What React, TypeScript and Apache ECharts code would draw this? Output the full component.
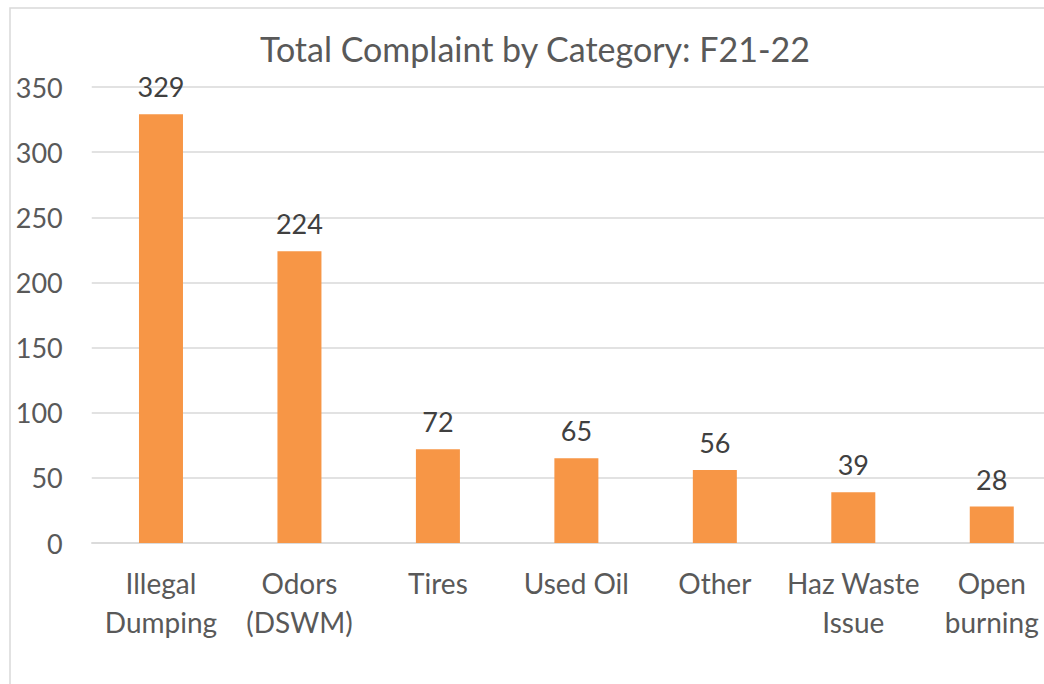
import React, { useEffect, useRef } from "react";
import * as echarts from "echarts";

const categories = ["Illegal\nDumping", "Odors\n(DSWM)", "Tires", "Used Oil", "Other", "Haz Waste\nIssue", "Open\nburning"];
const complaints = [329, 224, 72, 65, 56, 39, 28];
const yTicks = { min: 0, max: 350, interval: 50 };
const title = "Total Complaint by Category: F21-22";

const FONT = "Lato, 'Open Sans', sans-serif";
const TEXT = "#595959";

export default function App() {
  const ref = useRef<HTMLDivElement>(null);
  useEffect(() => {
    if (!ref.current) return;
    const chart = echarts.init(ref.current, undefined, { renderer: "svg" });
    chart.setOption({
      animation: false,
      backgroundColor: "#ffffff",
      title: {
        text: title,
        left: 530,
        textAlign: "center",
        top: 26,
        textStyle: { fontFamily: FONT, fontSize: 34, fontWeight: "normal", color: TEXT },
      },
      graphic: [
        {
          type: "rect",
          shape: { x: 10, y: 8, width: 1200, height: 1000 },
          style: { fill: "none", stroke: "#d9d9d9", lineWidth: 1.5 },
          silent: true,
        },
      ],
      grid: { left: 91.75, right: 2, top: 87, height: 456, containLabel: false },
      xAxis: {
        type: "category",
        data: categories,
        axisLine: { show: true, lineStyle: { color: "#d9d9d9", width: 1.5 } },
        axisTick: { show: false },
        axisLabel: {
          fontFamily: FONT,
          fontSize: 28,
          color: TEXT,
          margin: 20,
          lineHeight: 39,
          interval: 0,
        },
      },
      yAxis: {
        type: "value",
        min: yTicks.min,
        max: yTicks.max,
        interval: yTicks.interval,
        axisLine: { show: false },
        axisTick: { show: false },
        splitLine: { lineStyle: { color: "#d9d9d9", width: 1.5 } },
        axisLabel: { fontFamily: FONT, fontSize: 27, color: TEXT, margin: 29 },
      },
      series: [
        {
          type: "bar",
          data: complaints,
          barWidth: 44,
          itemStyle: { color: "#F79646" },
          label: {
            show: true,
            position: "top",
            distance: 14,
            fontFamily: FONT,
            fontSize: 27,
            color: "#404040",
          },
        },
      ],
    });
    return () => chart.dispose();
  }, []);
  return (
    <div
      ref={ref}
      style={{ position: "fixed", left: 0, top: 0, width: 1063, height: 684 }}
    />
  );
}
